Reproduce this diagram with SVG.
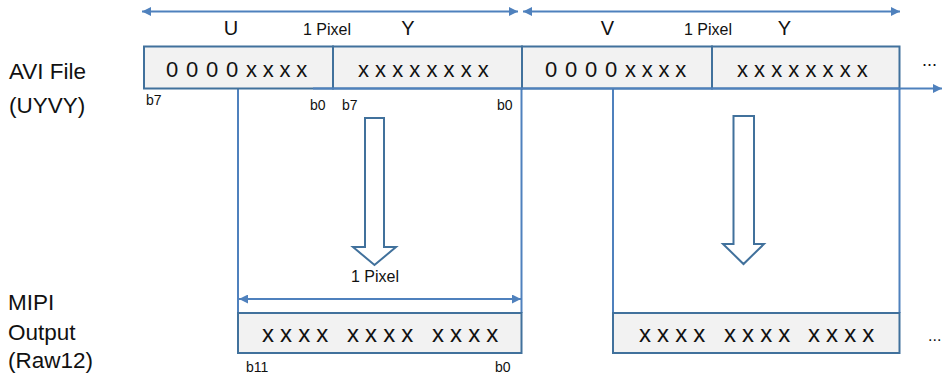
<svg xmlns="http://www.w3.org/2000/svg" width="946" height="378" viewBox="0 0 946 378">
<style>
text{font-family:"Liberation Sans",Arial,sans-serif;fill:#111}
.lbl{font-size:22.5px}
.hdr{font-size:20px;text-anchor:middle}
.px{font-size:16px;text-anchor:middle}
.bit{font-size:14px}
.cell{fill:#F2F2F2;stroke:#41719C;stroke-width:2}
.val{font-size:22px}
.val2{font-size:24px}
.ln{fill:none;stroke:#4F81BD;stroke-width:2}
.big{fill:#FFFFFF;stroke:#41719C;stroke-width:2;stroke-linejoin:miter}
</style>
<defs>
<marker id="ah" viewBox="0 0 10 10" refX="10" refY="5" markerWidth="9" markerHeight="9" markerUnits="userSpaceOnUse" orient="auto-start-reverse">
<path d="M0,0 L10,5 L0,10 z" fill="#4F81BD"/>
</marker>
</defs>
<g id="labels">
<text class="lbl" x="9" y="79">AVI File</text>
<text class="lbl" x="9" y="113">(UYVY)</text>
<text class="lbl" x="8" y="310">MIPI</text>
<text class="lbl" x="8" y="340">Output</text>
<text class="lbl" x="8" y="368">(Raw12)</text>
</g>
<g id="headers">
<text class="hdr" x="231" y="35">U</text>
<text class="px" x="327" y="35">1 Pixel</text>
<text class="hdr" x="408" y="35">Y</text>
<text class="hdr" x="607.5" y="35">V</text>
<text class="px" x="708" y="35">1 Pixel</text>
<text class="hdr" x="784.5" y="35">Y</text>
</g>
<g id="connectors">
<line class="ln" x1="142" y1="11.5" x2="518" y2="11.5" marker-start="url(#ah)" marker-end="url(#ah)"/>
<line class="ln" x1="523" y1="11.5" x2="900" y2="11.5" marker-start="url(#ah)" marker-end="url(#ah)"/>
<line class="ln" x1="238" y1="89" x2="238" y2="313"/>
<line class="ln" x1="521.5" y1="89" x2="521.5" y2="313"/>
<line class="ln" x1="613" y1="89" x2="613" y2="313"/>
<line class="ln" x1="899.5" y1="89" x2="899.5" y2="313"/>
<line class="ln" x1="239" y1="299" x2="521" y2="299" marker-start="url(#ah)" marker-end="url(#ah)"/>
</g>
<g id="node-u">
<rect class="cell" x="144" y="46.5" width="189" height="42"/>
<text class="val" x="166" y="77"><tspan letter-spacing="0.82">0 0 0 0</tspan><tspan x="246" letter-spacing="-0.2">x x x x</tspan></text>
<text class="bit" x="146" y="105">b7</text>
<text class="bit" x="310" y="110">b0</text>
</g>
<g id="node-y1">
<rect class="cell" x="333" y="46.5" width="189" height="42"/>
<text class="val" x="358" y="77">x x x x x x x x</text>
<text class="bit" x="342" y="110">b7</text>
<text class="bit" x="497" y="110">b0</text>
</g>
<g id="node-v">
<rect class="cell" x="522" y="46.5" width="190" height="42"/>
<text class="val" x="545" y="77"><tspan letter-spacing="0.82">0 0 0 0</tspan><tspan x="625" letter-spacing="-0.2">x x x x</tspan></text>
</g>
<g id="node-y2">
<rect class="cell" x="712" y="46.5" width="187.5" height="42"/>
<text class="val" x="737" y="77">x x x x x x x x</text>
</g>
<g id="more-top">
<text x="922" y="66" style="font-size:18px">...</text>
</g>
<g id="line-right">
<line class="ln" x1="313" y1="88.5" x2="942" y2="88.5" marker-end="url(#ah)"/>
</g>
<g id="arrow-1">
<path class="big" d="M365,118 L384,118 L384,247 L396,247 L374.5,265 L353,247 L365,247 Z"/>
<text class="px" x="375" y="282">1 Pixel</text>
</g>
<g id="arrow-2">
<path class="big" d="M733.5,116 L754,116 L754,244 L764,244 L743.5,264 L723,244 L733.5,244 Z"/>
</g>
<g id="node-out1">
<rect class="cell" x="238" y="313" width="283.5" height="40"/>
<text class="val2" x="262" y="342" letter-spacing="-0.3">x x x x</text>
<text class="val2" x="347" y="342" letter-spacing="-0.3">x x x x</text>
<text class="val2" x="432" y="342" letter-spacing="-0.3">x x x x</text>
<text class="bit" x="246" y="372">b11</text>
<text class="bit" x="495" y="372">b0</text>
</g>
<g id="node-out2">
<rect class="cell" x="613" y="313" width="286.5" height="40"/>
<text class="val2" x="639" y="342" letter-spacing="-0.3">x x x x</text>
<text class="val2" x="724" y="342" letter-spacing="-0.3">x x x x</text>
<text class="val2" x="808" y="342" letter-spacing="-0.3">x x x x</text>
</g>
<g id="more-bottom">
<text x="928" y="341" style="font-size:16px">...</text>
</g>
</svg>
